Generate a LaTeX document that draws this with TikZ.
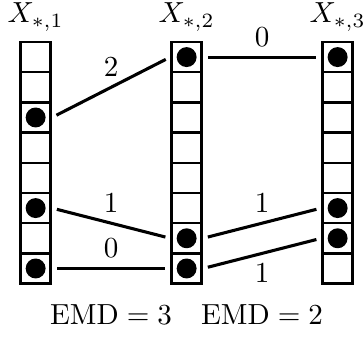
\RequirePackage{fix-cm}
\documentclass[tikz,border=0pt]{standalone}
\usepackage{amsmath, amssymb}
\usepackage{tikz}

\begin{document}
\begin{tikzpicture}[x=0.38cm, y=0.38cm,
    font=\fontsize{10.4}{12.5}\selectfont,
    cell/.style={draw, line width=0.9pt, minimum size=0.38cm, inner sep=0pt},
    link/.style={line width=1.1pt, shorten <=1.8pt, shorten >=1.8pt}]
        \useasboundingbox (0,0) rectangle (12.02,11.19);
        % columns of cells
        \foreach \c in {1,2,3} {
          \foreach \r in {1,...,8} {
            \node[cell] (c\c-\r) at ({1.18+5*(\c-1)}, {10.3-\r}) {};
          }
          \node[anchor=base] (head\c) at ({1.18+5*(\c-1)}, 10.43) {$X_{*,\c}$};
        }
        % filled cells
        \foreach \c/\r in {1/3, 1/6, 1/8, 2/1, 2/7, 2/8, 3/1, 3/6, 3/7}
          \fill (c\c-\r) circle (0.33);
        % matchings
        \draw[link] (c1-3.east) -- node[above] {$2$} (c2-1.west);
        \draw[link] (c1-6.east) -- node[above] {$1$} (c2-7.west);
        \draw[link] (c1-8.east) -- node[above] {$0$} (c2-8.west);
        \draw[link] (c2-1.east) -- node[above] {$0$} (c3-1.west);
        \draw[link] (c2-7.east) -- node[above] {$1$} (c3-6.west);
        \draw[link] (c2-8.east) -- node[below] {$1$} (c3-7.west);
        \node[anchor=base] (emdA) at (3.68, 0.43) {$\mathrm{EMD} = 3$};
        \node[anchor=base] (emdB) at (8.68, 0.43) {$\mathrm{EMD} = 2$};
      \end{tikzpicture}
\end{document}
